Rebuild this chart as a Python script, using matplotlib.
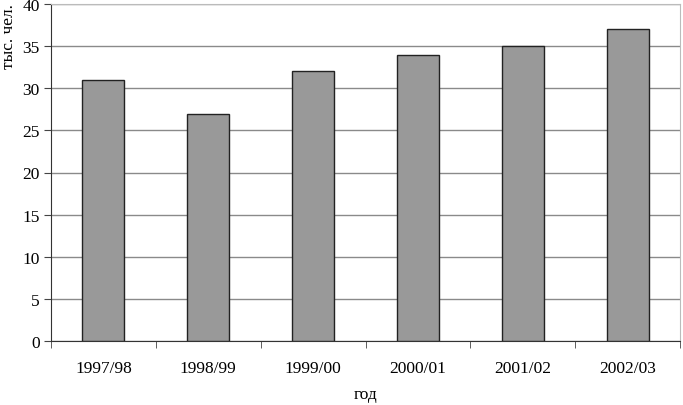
import matplotlib
matplotlib.use("Agg")
import matplotlib.pyplot as plt
import numpy as np

years = ["1997/98", "1998/99", "1999/00", "2000/01", "2001/02", "2002/03"]
values = [31, 27, 32, 34, 35, 37]

plt.rcParams["font.family"] = ["Liberation Serif", "DejaVu Serif"]

fig = plt.figure(figsize=(6.83, 4.06), dpi=100)
ax = fig.add_axes([51 / 683, 64 / 406, 629 / 683, 337 / 406])

x = np.arange(len(years))
ax.bar(x, values, width=0.4, color="#999999", edgecolor="#222222", linewidth=1.0, zorder=3)

ax.set_xlim(-0.5, len(years) - 0.5)
ax.set_ylim(0, 40)
ax.set_yticks(range(0, 41, 5))
ax.yaxis.grid(True, color="#8a8a8a", linewidth=1.0, zorder=0)

ax.set_xticks(x)
ax.set_xticklabels(years, fontsize=12.5)
ax.set_xticks(np.arange(-0.5, len(years)), minor=True)
ax.tick_params(axis="x", which="major", length=0, pad=14)
ax.tick_params(axis="x", which="minor", length=5, color="#444444", direction="out")
ax.tick_params(axis="y", labelsize=12.5, length=5, color="#444444", pad=3)

for side in ("top", "right"):
    ax.spines[side].set_color("#bbbbbb")
    ax.spines[side].set_linewidth(0.8)
ax.spines["left"].set_color("#333333")
ax.spines["bottom"].set_color("#333333")

ax.set_xlabel("год", fontsize=12.5, labelpad=7)
fig.text(9 / 683, 1 - 37 / 406, "тыс. чел.", rotation=90, fontsize=12.5,
         ha="center", va="center")

fig.savefig("out.png", dpi=100)
